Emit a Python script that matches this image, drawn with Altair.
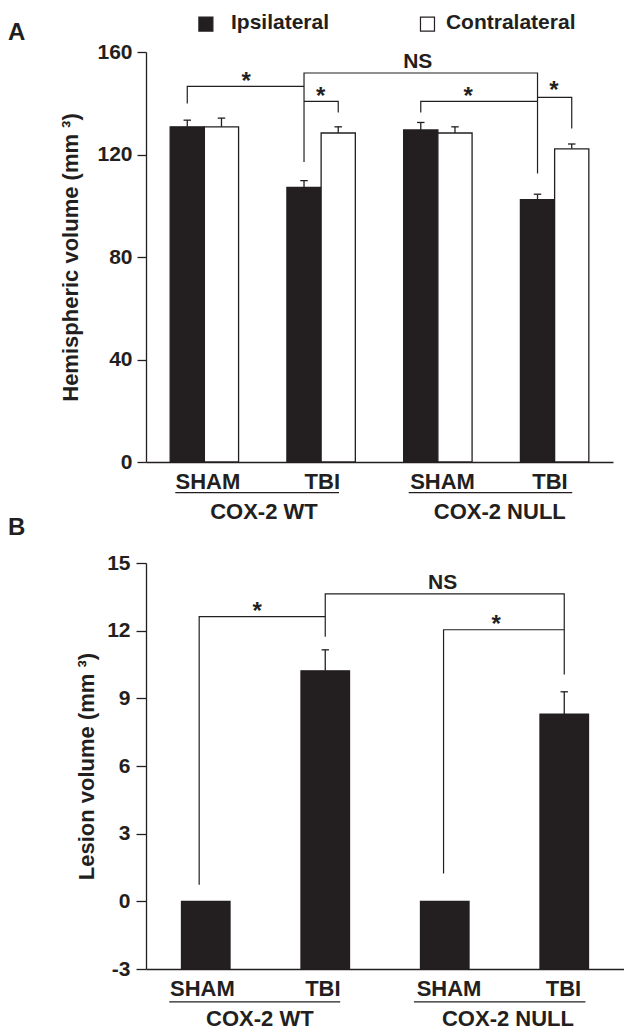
import altair as alt
import pandas as pd

INK = "#231f20"
FONT = "Liberation Sans, Arial, Helvetica, sans-serif"

# ---------------- data ----------------
conditions = ["SHAM", "TBI", "SHAM", "TBI"]
genotypes = ["COX-2 WT", "COX-2 NULL"]
sides = ["Ipsilateral", "Contralateral"]

ipsi_mean = [130.8, 107.2, 129.6, 102.4]
ipsi_sem = [2.6, 2.6, 2.9, 2.1]
contra_mean = [130.8, 128.4, 128.4, 122.2]
contra_sem = [3.4, 2.4, 2.4, 1.9]

lesion_mean = [0.0, 10.22, 0.0, 8.3]
lesion_sem = [0.0, 0.93, 0.0, 0.99]

# ---------------- panel A tables ----------------
WA = 0.293  # bar width in group units
rowsA = []
for g in range(4):
    rowsA.append(dict(side="Ipsilateral", x0=g - WA, x1=g, xc=g - WA / 2,
                      mean=ipsi_mean[g], top=ipsi_mean[g] + ipsi_sem[g], base=0))
    rowsA.append(dict(side="Contralateral", x0=g, x1=g + WA, xc=g + WA / 2,
                      mean=contra_mean[g], top=contra_mean[g] + contra_sem[g], base=0))
dfA = pd.DataFrame(rowsA)
dfA["cl"] = dfA["xc"] - 0.032
dfA["cr"] = dfA["xc"] + 0.032

cI = [g - WA / 2 for g in range(4)]
cC = [g + WA / 2 for g in range(4)]
bracketsA = [
    ("b1", [(cI[0], 139.9), (cI[0], 146.6), (cI[1], 146.6)]),
    ("ns", [(cI[1], 117.1), (cI[1], 151.8), (cI[3], 151.8), (cI[3], 112.6)]),
    ("b2", [(cI[1], 140.7), (cC[1], 140.7), (cC[1], 136.4)]),
    ("b3", [(cI[2], 136.4), (cI[2], 140.7), (cI[3], 140.7)]),
    ("b4", [(cI[3], 142.3), (cC[3], 142.3), (cC[3], 130.1)]),
]
brA = pd.DataFrame([dict(id=i, ord=k, x=p[0], y=p[1])
                    for i, pts in bracketsA for k, p in enumerate(pts)])

marksA = pd.DataFrame(dict(t=["*", "*", "*", "*", "NS"],
                           x=[0.358, 0.996, 2.26, 2.994, 1.828],
                           y=[145.4, 139.6, 139.9, 142.2, 153.9],
                           fs=[24, 24, 24, 24, 21]))

xlabA = pd.DataFrame(dict(t=conditions, x=[0.03, 1.01, 2.04, 2.96], y=[-10.54] * 4))
glabA = pd.DataFrame(dict(t=genotypes, x=[0.51, 2.53], y=[-22.25] * 2))
ulA = pd.DataFrame(dict(x=[-0.249, 1.75], x2=[1.153, 3.151], y=[-11.94] * 2))

legA = pd.DataFrame(dict(side=sides, sx=[0.013, 1.911], sy=[170.9, 170.9],
                         tx=[0.228, 2.069], ty=[169.1, 169.1]))

# ---------------- panel B tables ----------------
WB = 0.406
dfB = pd.DataFrame(dict(x0=[g - WB / 2 for g in range(4)], x1=[g + WB / 2 for g in range(4)],
                        xc=[float(g) for g in range(4)], mean=lesion_mean,
                        top=[m + s for m, s in zip(lesion_mean, lesion_sem)],
                        base=[-3.0] * 4, sem=lesion_sem))
dfB["cl"] = dfB["xc"] - 0.031
dfB["cr"] = dfB["xc"] + 0.031
errB = dfB[dfB["sem"] > 0]

bracketsB = [
    ("b1", [(-0.055, 0.74), (-0.055, 12.62), (1.0, 12.62)]),
    ("ns", [(1.0, 11.73), (1.0, 13.63), (3.0, 13.63), (3.0, 10.06)]),
    ("b2", [(1.99, 1.23), (1.99, 12.04), (3.0, 12.04)]),
]
brB = pd.DataFrame([dict(id=i, ord=k, x=p[0], y=p[1])
                    for i, pts in bracketsB for k, p in enumerate(pts)])
marksB = pd.DataFrame(dict(t=["*", "*", "NS"], x=[0.43, 2.431, 1.982],
                           y=[12.52, 11.92, 13.83], fs=[24, 24, 21]))
xlabB = pd.DataFrame(dict(t=conditions, x=[-0.028, 0.98, 2.036, 2.993], y=[-4.203] * 4))
glabB = pd.DataFrame(dict(t=genotypes, x=[0.453, 2.529], y=[-5.535] * 2))
ulB = pd.DataFrame(dict(x=[-0.305, 1.742], x2=[1.125, 3.177], y=[-4.456] * 2))


def panel(df, dfe, br, marks, xlab, glab, ul, ydom, yvals, ytitle, w, h,
          tickSize, labelPad, titlePad, letter_rows, legend=None, two=True):
    xs = alt.Scale(domain=[-0.5, 3.5], nice=False, zero=False)
    ys = alt.Scale(domain=ydom, nice=False, zero=False)
    xaxis = alt.Axis(title="", labels=False, ticks=False, grid=False, values=[],
                     domainColor=INK, domainWidth=1.3)
    yaxis = alt.Axis(title=ytitle, values=yvals, grid=False, domainColor=INK, domainWidth=1.3,
                     tickColor=INK, tickWidth=1.3, tickSize=tickSize, labelPadding=labelPad,
                     labelExpr="'' + datum.value",
                     labelFont=FONT, labelFontSize=21, labelFontWeight="bold", labelColor=INK,
                     titleFont=FONT, titleFontSize=22, titleFontWeight="bold", titleColor=INK,
                     titlePadding=titlePad)

    def X(f):
        return alt.X(f, scale=xs, axis=xaxis, title="")

    def Y(f):
        return alt.Y(f, scale=ys, axis=yaxis, title=ytitle)

    if two:
        fill = alt.Fill("side:N", scale=alt.Scale(domain=sides, range=[INK, "white"]), legend=None)
    else:
        fill = alt.value(INK)
    bars = alt.Chart(df).mark_bar(stroke=INK, strokeWidth=1.3).encode(
        x=X("x0:Q"), x2="x1:Q", y=Y("mean:Q"), y2="base:Q", fill=fill)
    eb = alt.Chart(dfe).mark_rule(color=INK, strokeWidth=1.3).encode(
        x=X("xc:Q"), y=Y("mean:Q"), y2="top:Q")
    cap = alt.Chart(dfe).mark_rule(color=INK, strokeWidth=1.3).encode(
        x=X("cl:Q"), x2="cr:Q", y=Y("top:Q"))
    brl = alt.Chart(br).mark_line(color=INK, strokeWidth=1.2).encode(
        x=X("x:Q"), y=Y("y:Q"), detail="id:N", order="ord:Q")
    mk = alt.Chart(marks).mark_text(font=FONT, fontWeight="bold", color=INK,
                                    baseline="alphabetic", align="center").encode(
        x=X("x:Q"), y=Y("y:Q"), text="t:N", size=alt.Size("fs:Q", scale=None, legend=None))
    xl = alt.Chart(xlab).mark_text(font=FONT, fontWeight="bold", fontSize=22, color=INK,
                                   baseline="alphabetic", align="center").encode(
        x=X("x:Q"), y=Y("y:Q"), text="t:N")
    gl = alt.Chart(glab).mark_text(font=FONT, fontWeight="bold", fontSize=22, color=INK,
                                   baseline="alphabetic", align="center").encode(
        x=X("x:Q"), y=Y("y:Q"), text="t:N")
    u = alt.Chart(ul).mark_rule(color=INK, strokeWidth=1.3).encode(
        x=X("x:Q"), x2="x2:Q", y=Y("y:Q"))
    layers = [bars, eb, cap, brl, mk, xl, gl, u]
    for (txt, py) in letter_rows:
        layers.append(alt.Chart(pd.DataFrame(dict(t=[txt]))).mark_text(
            font=FONT, fontWeight="bold", fontSize=24, color=INK, align="left",
            baseline="alphabetic").encode(text="t:N", x=alt.value(-138), y=alt.value(py)))
    if legend is not None:
        sq = alt.Chart(legend).mark_square(size=196, stroke=INK, strokeWidth=1.2, opacity=1).encode(
            x=X("sx:Q"), y=Y("sy:Q"),
            fill=alt.Fill("side:N", scale=alt.Scale(domain=sides, range=[INK, "white"]), legend=None))
        lt = alt.Chart(legend).mark_text(font=FONT, fontWeight="bold", fontSize=21, color=INK,
                                         align="left", baseline="alphabetic").encode(
            x=X("tx:Q"), y=Y("ty:Q"), text="side:N")
        layers += [sq, lt]
    return alt.layer(*layers).properties(width=w, height=h)


chartA = panel(dfA, dfA, brA, marksA, xlabA, glabA, ulA, [0, 160], [0, 40, 80, 120, 160],
               "Hemispheric volume (mm ³)", 467, 410, 9, 5, 14,
               [("A", -11.7), ("B", 483.3)], legend=legA, two=True)
chartB = panel(dfB, errB, brB, marksB, xlabB, glabB, ulB, [-3, 15], [-3, 0, 3, 6, 9, 12, 15],
               "Lesion volume (mm ³)", 478, 406, 10, 6, 8, [], legend=None, two=False)

chart = alt.vconcat(chartA, chartB, spacing=11).properties(
    padding={"left": 0, "top": 3, "right": 0, "bottom": 0}
).configure(font=FONT, background="white").configure_view(strokeWidth=0)

chart.save("out.html", embed_options={"renderer": "svg", "actions": False})
